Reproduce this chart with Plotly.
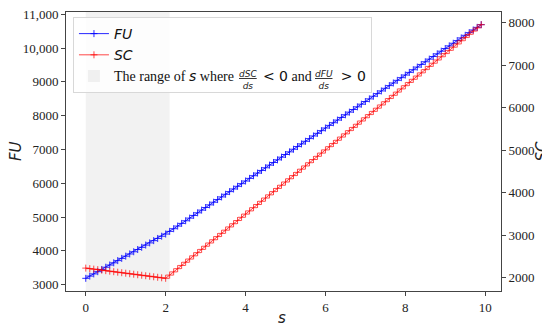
import plotly.graph_objects as go

s = [0.0, 0.1, 0.2, 0.3, 0.4, 0.5, 0.6, 0.7, 0.8, 0.9,
     1.0, 1.1, 1.2, 1.3, 1.4, 1.5, 1.6, 1.7, 1.8, 1.9,
     2.0, 2.1, 2.2, 2.3, 2.4, 2.5, 2.6, 2.7, 2.8, 2.9,
     3.0, 3.1, 3.2, 3.3, 3.4, 3.5, 3.6, 3.7, 3.8, 3.9,
     4.0, 4.1, 4.2, 4.3, 4.4, 4.5, 4.6, 4.7, 4.8, 4.9,
     5.0, 5.1, 5.2, 5.3, 5.4, 5.5, 5.6, 5.7, 5.8, 5.9,
     6.0, 6.1, 6.2, 6.3, 6.4, 6.5, 6.6, 6.7, 6.8, 6.9,
     7.0, 7.1, 7.2, 7.3, 7.4, 7.5, 7.6, 7.7, 7.8, 7.9,
     8.0, 8.1, 8.2, 8.3, 8.4, 8.5, 8.6, 8.7, 8.8, 8.9,
     9.0, 9.1, 9.2, 9.3, 9.4, 9.5, 9.6, 9.7, 9.8, 9.9]

FU = [3190, 3256, 3321, 3387, 3452, 3518, 3583, 3649, 3714, 3780,
      3845, 3911, 3976, 4042, 4107, 4173, 4238, 4304, 4369, 4435,
      4500, 4578, 4657, 4735, 4814, 4892, 4970, 5049, 5127, 5206,
      5284, 5362, 5440, 5519, 5597, 5675, 5754, 5832, 5911, 5989,
      6067, 6145, 6224, 6302, 6380, 6459, 6537, 6615, 6694, 6772,
      6851, 6929, 7007, 7086, 7164, 7242, 7321, 7399, 7477, 7556,
      7634, 7712, 7791, 7869, 7947, 8026, 8104, 8182, 8261, 8339,
      8418, 8496, 8574, 8652, 8731, 8809, 8888, 8966, 9044, 9123,
      9201, 9279, 9358, 9436, 9514, 9593, 9671, 9749, 9828, 9906,
      9985, 10063, 10141, 10220, 10298, 10376, 10455, 10533, 10611, 10690]

SC = [2220, 2208, 2196, 2184, 2172, 2160, 2148, 2136, 2124, 2112,
      2100, 2088, 2076, 2064, 2052, 2040, 2028, 2016, 2004, 1992,
      1980, 2056, 2131, 2207, 2283, 2358, 2434, 2509, 2585, 2661,
      2736, 2812, 2888, 2963, 3039, 3114, 3190, 3266, 3341, 3417,
      3493, 3568, 3644, 3719, 3795, 3871, 3946, 4022, 4098, 4173,
      4249, 4325, 4400, 4476, 4551, 4627, 4703, 4778, 4854, 4930,
      5005, 5081, 5157, 5232, 5308, 5383, 5459, 5535, 5610, 5686,
      5762, 5837, 5913, 5988, 6064, 6140, 6215, 6291, 6367, 6442,
      6518, 6594, 6669, 6745, 6820, 6896, 6972, 7047, 7123, 7199,
      7274, 7350, 7425, 7501, 7577, 7652, 7728, 7804, 7879, 7955]

shade_range = [0.0, 2.1]

x_ticks = [0, 2, 4, 6, 8, 10]
fu_ticks = [3000, 4000, 5000, 6000, 7000, 8000, 9000, 10000, 11000]
fu_ticktext = ["3000", "4000", "5000", "6000", "7000", "8000", "9000", "10,000", "11,000"]
sc_ticks = [2000, 3000, 4000, 5000, 6000, 7000, 8000]

SERIF = "Liberation Serif"
SANS = "DejaVu Sans"
AX = "#444444"

fig = go.Figure()
fig.add_trace(go.Scatter(
    x=s, y=FU, name="<i>FU</i>", mode="lines+markers", yaxis="y",
    line=dict(color="rgba(0,0,255,0.85)", width=1),
    marker=dict(symbol="cross-thin", size=5, line=dict(color="rgba(0,0,255,0.85)", width=1)),
    legendrank=1))
fig.add_trace(go.Scatter(
    x=s, y=SC, name="<i>SC</i>", mode="lines+markers", yaxis="y2",
    line=dict(color="rgba(255,0,0,0.72)", width=1),
    marker=dict(symbol="cross-thin", size=5, line=dict(color="rgba(255,0,0,0.72)", width=1)),
    legendrank=2))

gap = "\u2003\u2002"
legend_name = ("<span style='font-family:Liberation Serif'>The range of </span>"
               "<i>s</i><span style='font-family:Liberation Serif'> where </span>"
               + gap + " &lt; 0<span style='font-family:Liberation Serif'> and </span>"
               + gap + " &gt; 0")

fig.add_shape(type="rect", xref="x", yref="paper", x0=shade_range[0], x1=shade_range[1],
              y0=0, y1=1, fillcolor="rgba(211,211,211,0.3)", line=dict(width=0),
              layer="below", showlegend=True, name=legend_name, legendrank=3)

W, H = 542, 321  # page body adds an 8px margin
fig.update_layout(
    width=W, height=H,
    margin=dict(l=58, r=49, t=4, b=38),
    plot_bgcolor="white", paper_bgcolor="white",
    font=dict(family=SERIF, size=13, color="#222"),
    showlegend=True,
    legend=dict(x=0.016, y=0.982, xanchor="left", yanchor="top",
                bgcolor="rgba(255,255,255,0.8)", bordercolor="#d8d8d8", borderwidth=1,
                font=dict(family=SANS, size=14, color="#111")),
    xaxis=dict(range=[-0.495, 10.395], tickvals=x_ticks, showgrid=False, zeroline=False,
               showline=True, linecolor=AX, linewidth=1, mirror=True, automargin=False,
               ticks="outside", ticklen=4, tickcolor=AX, ticklabeloverflow="allow",
               tickfont=dict(family=SERIF, size=13)),
    yaxis=dict(range=[2815, 11065], tickvals=fu_ticks, ticktext=fu_ticktext, showgrid=False,
               zeroline=False, showline=True, linecolor=AX, linewidth=1, automargin=False,
               ticklabeloverflow="allow",
               ticks="outside", ticklen=4, tickcolor=AX, tickfont=dict(family=SERIF, size=13)),
    yaxis2=dict(range=[1681, 8254], tickvals=sc_ticks, overlaying="y", side="right",
                showgrid=False, zeroline=False, showline=True, linecolor=AX, linewidth=1,
                automargin=False, ticklabeloverflow="allow",
                ticks="outside", ticklen=4, tickcolor=AX, tickfont=dict(family=SERIF, size=13)),
)

# axis titles
fig.add_annotation(text="<i>s</i>", xref="paper", yref="paper", x=0.497, y=-0.098,
                   xanchor="center", yanchor="middle",
                   showarrow=False, font=dict(family=SANS, size=15))
fig.add_annotation(text="<i>FU</i>", xref="paper", yref="paper", x=-0.116, y=0.5,
                   xanchor="center", yanchor="middle",
                   showarrow=False, textangle=-90, font=dict(family=SANS, size=15))
fig.add_annotation(text="<i>SC</i>", xref="paper", yref="paper", x=1.092, y=0.5,
                   xanchor="center", yanchor="middle",
                   showarrow=False, textangle=-90, font=dict(family=SANS, size=15))

# fractions in the legend entry
fig.add_annotation(text="<u><i>dSC</i></u><br><i>ds</i>", xref="paper", yref="paper",
                   x=0.418, y=0.758, xanchor="center", yanchor="middle",
                   showarrow=False, font=dict(family=SANS, size=9), align="center")
fig.add_annotation(text="<u><i>dFU</i></u><br><i>ds</i>", xref="paper", yref="paper",
                   x=0.593, y=0.758, xanchor="center", yanchor="middle",
                   showarrow=False, font=dict(family=SANS, size=9), align="center")

fig.write_html("out.html")
